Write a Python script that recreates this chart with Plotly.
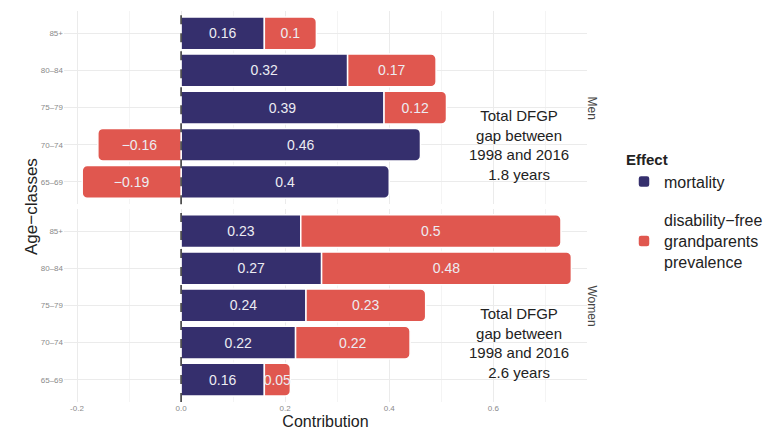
import plotly.graph_objects as go

# Age classes (bottom to top) and decomposition of the DFGP gap
age_classes = ["65–69", "70–74", "75–79", "80–84", "85+"]
men_mortality = [0.40, 0.46, 0.39, 0.32, 0.16]
men_prevalence = [-0.19, -0.16, 0.12, 0.17, 0.10]
women_mortality = [0.16, 0.22, 0.24, 0.27, 0.23]
women_prevalence = [0.05, 0.22, 0.23, 0.48, 0.50]
x_ticks = [-0.2, 0.0, 0.2, 0.4, 0.6]
x_tick_labels = ["-0.2", "0.0", "0.2", "0.4", "0.6"]
men_total = "1.8 years"
women_total = "2.6 years"

NAVY = "#352f6d"
RED = "#e0574f"
FONT = "Liberation Sans, Arial, sans-serif"

fig = go.Figure()


def fmt(v):
    return f"{v:g}".replace("-", "−")


def add_bars(vals, name, color, yaxis, show):
    fig.add_trace(go.Bar(
        x=vals, y=age_classes, orientation="h", name=name,
        marker=dict(color=color, line=dict(color="white", width=1.5), cornerradius=5),
        text=[fmt(v) for v in vals], textposition="inside", textangle=0,
        insidetextanchor="middle", constraintext="none",
        textfont=dict(color="#ececf2", size=14, family=FONT),
        width=0.88, yaxis=yaxis, xaxis="x" if yaxis == "y" else "x2",
        showlegend=show, legendgroup=name,
    ))


add_bars(men_mortality, "mortality", NAVY, "y", True)
add_bars(men_prevalence, "disability−free<br>grandparents<br>prevalence", RED, "y", True)
add_bars(women_mortality, "mortality", NAVY, "y2", False)
add_bars(women_prevalence, "disability−free<br>grandparents<br>prevalence", RED, "y2", False)

grid = "#ebebeb"
xcommon = dict(range=[-0.225, 0.78], tickvals=x_ticks, showgrid=True, gridcolor=grid,
               gridwidth=1, zeroline=False, showline=False, automargin=False,
               minor=dict(dtick=0.1, tick0=0.1, showgrid=True, gridcolor="#f4f4f4", gridwidth=0.6))
ycommon = dict(categoryorder="array", categoryarray=age_classes, showgrid=True,
               gridcolor=grid, zeroline=False, showline=False, automargin=False,
               tickfont=dict(size=8, color="#8a8a8a", family=FONT), ticks="", ticklen=3,
               range=[-0.6, 4.6])

fig.update_layout(
    barmode="relative",
    uniformtext=dict(minsize=14, mode="show"),
    width=771, height=432,
    margin=dict(l=64, r=184, t=11, b=30),
    paper_bgcolor="white", plot_bgcolor="white",
    font=dict(family=FONT),
    xaxis=dict(**xcommon, anchor="y", showticklabels=False),
    xaxis2=dict(**xcommon, anchor="y2", matches="x",
                ticktext=x_tick_labels,
                tickfont=dict(size=8, color="#8a8a8a", family=FONT),
                title=dict(text="Contribution", font=dict(size=16, color="#222"), standoff=2)),
    yaxis=dict(**ycommon, domain=[0.506, 1.0], anchor="x"),
    yaxis2=dict(**ycommon, domain=[0.0, 0.494], anchor="x2"),
    legend=dict(
        title=dict(text="<b>Effect</b>", font=dict(size=15, color="#222")),
        font=dict(size=16, color="#222"),
        x=624 / 771, xref="container", y=1 - 145 / 432, yref="container",
        xanchor="left", yanchor="top", tracegroupgap=15, itemwidth=30,
    ),
)

# Dashed reference line at zero in each panel
for xr, yr in (("x", "y"), ("x2", "y2")):
    fig.add_shape(type="line", xref=xr, yref=f"{yr} domain", x0=0, x1=0, y0=0, y1=1,
                  line=dict(color="#333", width=1.5, dash="dash"), layer="above")

note = "Total DFGP<br>gap between<br>1998 and 2016<br>{}"
fig.add_annotation(text=note.format(men_total), xref="x", yref="y", x=0.65, y=1.0,
                   showarrow=False, font=dict(size=15, color="#222"), align="center")
fig.add_annotation(text=note.format(women_total), xref="x2", yref="y2", x=0.65, y=1.0,
                   showarrow=False, font=dict(size=15, color="#222"), align="center")

# Facet strip labels
fig.add_annotation(text="Men", xref="paper", yref="y domain", x=1.0, xshift=14, y=0.5,
                   textangle=90, showarrow=False, font=dict(size=12, color="#444"))
fig.add_annotation(text="Women", xref="paper", yref="y2 domain", x=1.0, xshift=14, y=0.5,
                   textangle=90, showarrow=False, font=dict(size=12, color="#444"))

# Shared y-axis title
fig.add_annotation(text="Age−classes", xref="paper", yref="paper", x=-44 / 523, y=0.5,
                   textangle=-90, showarrow=False, font=dict(size=17, color="#222"))

fig.write_html("out.html")
